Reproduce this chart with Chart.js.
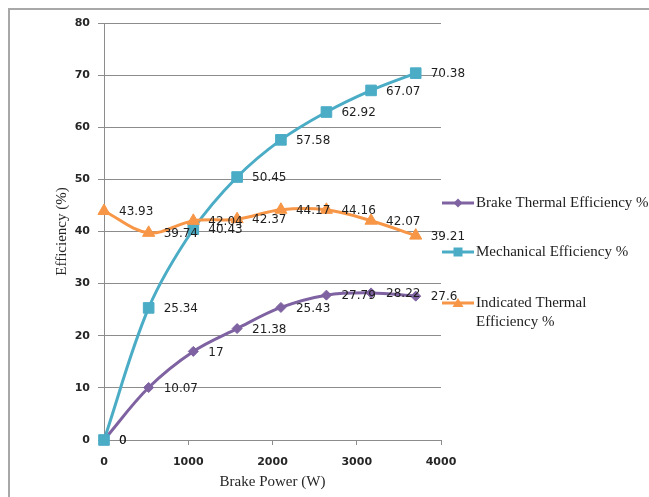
<!DOCTYPE html>
<html>
<head>
<meta charset="utf-8">
<script src="https://cdn.jsdelivr.net/npm/chart.js@4/dist/chart.umd.min.js"></script>
<style>
  html, body { margin: 0; padding: 0; background: #fff; }
  #wrap { width: 649px; height: 497px; }
</style>
</head>
<body>
<div id="wrap"><canvas id="c" width="649" height="497"></canvas></div>
<script>
// Brake power (W) at each test point
const brakePower = [0, 530, 1060, 1580, 2100, 2640, 3170, 3700];
// Efficiencies (%) measured at each brake power
const brakeThermal = [0, 10.07, 17, 21.38, 25.43, 27.79, 28.22, 27.6];
const mechanical = [0, 25.34, 40.43, 50.45, 57.58, 62.92, 67.07, 70.38];
const indicatedThermal = [43.93, 39.74, 42.04, 42.37, 44.17, 44.16, 42.07, 39.21];

const seriesNames = ['Brake Thermal Efficiency %', 'Mechanical Efficiency %', ['Indicated Thermal', 'Efficiency %']];
const xTicks = [0, 1000, 2000, 3000, 4000];
const yTicks = [0, 10, 20, 30, 40, 50, 60, 70, 80];

const PURPLE = '#7f62a1';
const TEAL = '#4bacc6';
const ORANGE = '#f79646';
const GRID = '#8c8c8c';

const toPoints = (ys) => brakePower.map((x, i) => ({ x: x, y: ys[i] }));

// Value labels to the right of each point
const valueLabels = {
  id: 'valueLabels',
  afterDatasetsDraw(chart) {
    const ctx = chart.ctx;
    ctx.save();
    ctx.font = '12px "DejaVu Sans"';
    ctx.fillStyle = '#1e1e1e';
    ctx.textAlign = 'left';
    ctx.textBaseline = 'middle';
    chart.data.datasets.forEach((ds, di) => {
      const meta = chart.getDatasetMeta(di);
      meta.data.forEach((pt, i) => {
        ctx.fillText(String(ds.data[i].y), pt.x + 15, pt.y + 1);
      });
    });
    ctx.restore();
  }
};

// Outer frame and the series key on the right
const frameAndKey = {
  id: 'frameAndKey',
  beforeDraw(chart) {
    const ctx = chart.ctx;
    ctx.save();
    ctx.fillStyle = '#fff';
    ctx.fillRect(0, 0, chart.width, chart.height);
    ctx.strokeStyle = '#a8a8a8';
    ctx.lineWidth = 2;
    ctx.strokeRect(9, 9, 800, 700);
    ctx.restore();
  },
  afterDraw(chart) {
    const ctx = chart.ctx;
    const rows = [203, 252, 303];
    ctx.save();
    chart.data.datasets.forEach((ds, i) => {
      const y = rows[i];
      const cx = 458;
      ctx.strokeStyle = ds.borderColor;
      ctx.lineWidth = 3;
      ctx.beginPath();
      ctx.moveTo(442, y);
      ctx.lineTo(474, y);
      ctx.stroke();
      ctx.fillStyle = ds.borderColor;
      ctx.beginPath();
      if (ds.pointStyle === 'rectRot') {
        ctx.moveTo(cx, y - 4.5); ctx.lineTo(cx + 4.5, y); ctx.lineTo(cx, y + 4.5); ctx.lineTo(cx - 4.5, y);
      } else if (ds.pointStyle === 'rect') {
        ctx.rect(cx - 4.5, y - 4.5, 9, 9);
      } else {
        ctx.moveTo(cx, y - 5); ctx.lineTo(cx + 5.5, y + 4); ctx.lineTo(cx - 5.5, y + 4);
      }
      ctx.closePath();
      ctx.fill();
      ctx.fillStyle = '#1e1e1e';
      ctx.font = '15px "Liberation Serif"';
      ctx.textAlign = 'left';
      ctx.textBaseline = 'middle';
      const lines = Array.isArray(seriesNames[i]) ? seriesNames[i] : [seriesNames[i]];
      lines.forEach((t, k) => ctx.fillText(t, 476, y + k * 19));
    });
    ctx.restore();
  }
};

const tickFont = { family: 'DejaVu Sans', size: 11, weight: 'bold' };
const titleFont = { family: 'Liberation Serif', size: 15 };

new Chart(document.getElementById('c'), {
  type: 'line',
  data: {
    datasets: [
      {
        label: 'Brake Thermal Efficiency %',
        data: toPoints(brakeThermal),
        order: 2, clip: false,
        borderColor: PURPLE, backgroundColor: PURPLE,
        borderWidth: 3, tension: 0.35,
        pointStyle: 'rectRot', pointRadius: 5, pointBorderWidth: 1,
        pointBackgroundColor: PURPLE, pointBorderColor: PURPLE
      },
      {
        label: 'Mechanical Efficiency %',
        data: toPoints(mechanical),
        order: 1, clip: false,
        borderColor: TEAL, backgroundColor: TEAL,
        borderWidth: 3, tension: 0.35,
        pointStyle: 'rect', pointRadius: 7.5, pointBorderWidth: 1,
        pointBackgroundColor: TEAL, pointBorderColor: TEAL
      },
      {
        label: 'Indicated Thermal Efficiency %',
        data: toPoints(indicatedThermal),
        order: 0, clip: false,
        borderColor: ORANGE, backgroundColor: ORANGE,
        borderWidth: 3, tension: 0.35,
        pointStyle: 'triangle', pointRadius: 7, pointBorderWidth: 1,
        pointBackgroundColor: ORANGE, pointBorderColor: ORANGE
      }
    ]
  },
  options: {
    responsive: false,
    animation: false,
    devicePixelRatio: 1,
    layout: { padding: { left: 0, right: 208, top: 23, bottom: 0 } },
    plugins: { legend: { display: false }, tooltip: { enabled: false } },
    scales: {
      x: {
        type: 'linear', min: 0, max: 4000,
        afterBuildTicks: (s) => { s.ticks = xTicks.map(v => ({ value: v })); },
        afterFit: (s) => { s.height = 57; },
        border: { color: GRID, width: 1 },
        grid: { display: true, drawOnChartArea: false, drawTicks: true, tickLength: 5, color: GRID },
        ticks: { font: tickFont, color: '#262626', padding: 11, maxRotation: 0, callback: (v) => String(v) },
        title: { display: true, text: 'Brake Power (W)', font: titleFont, color: '#262626', padding: { top: 0, bottom: 6 } }
      },
      y: {
        type: 'linear', min: 0, max: 80,
        afterBuildTicks: (s) => { s.ticks = yTicks.map(v => ({ value: v })); },
        afterFit: (s) => { s.width = 104; },
        border: { color: GRID, width: 1 },
        grid: { color: GRID, lineWidth: 1, drawTicks: true, tickLength: 6 },
        ticks: { font: tickFont, color: '#262626', padding: 8, callback: (v) => String(v) },
        title: { display: true, text: 'Efficiency (%)', font: titleFont, color: '#262626', padding: { top: 53, bottom: 0 } }
      }
    }
  },
  plugins: [frameAndKey, valueLabels]
});
</script>
</body>
</html>
